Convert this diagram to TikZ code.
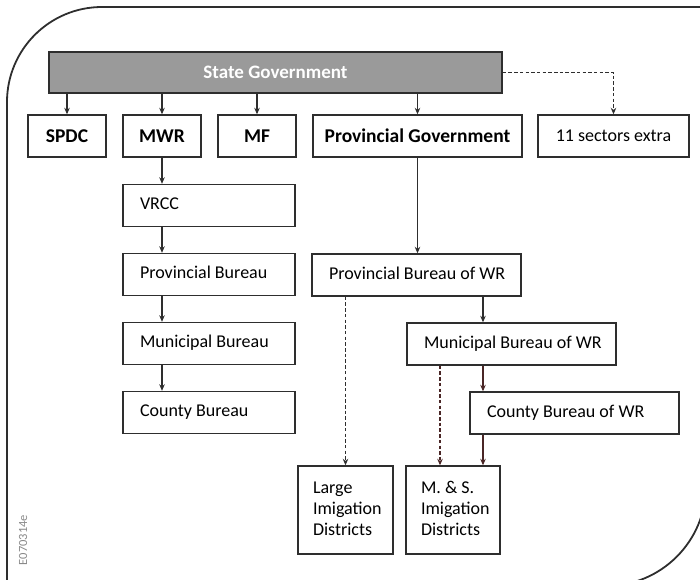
\documentclass[tikz,border=0pt]{standalone}
\usepackage{fontspec}
\setmainfont{Carlito}
\usetikzlibrary{arrows.meta}
\definecolor{linegray}{HTML}{2E2E2E}
\definecolor{bargray}{HTML}{9A9A9A}
\definecolor{arrowdark}{HTML}{4A2626}
\definecolor{labelgray}{HTML}{8A8A8A}
\newcommand\leftlines[2]{\raisebox{-1.5pt}{\makebox[#1][l]{\begin{tabular}{@{}l@{}}#2\end{tabular}}}}
\begin{document}
\begin{tikzpicture}[x=1pt,y=-1pt,
  box/.style={draw=linegray, line width=1.4pt, inner sep=0pt, minimum height=42pt,
    font=\fontsize{18}{21}\selectfont},
  topbox/.style={box, font=\fontsize{19.5}{21}\selectfont\bfseries},
  leftbox/.style={box, inner xsep=17pt},
  arr/.style={draw=linegray, line width=1.6pt, -{Stealth[length=6.5pt,width=5.5pt]}},
  darr/.style={arr, line width=1.8pt, dash pattern=on 3.5pt off 2.2pt},
  marr/.style={arr, draw=arrowdark},
  mdarr/.style={darr, draw=arrowdark}]
\useasboundingbox (0,0) rectangle (700,579);
\begin{scope}
  \clip (0,0) rectangle (700,579);
  \draw[line width=1.8pt, linegray, rounded corners=95pt] (7,640) -- (7,7) -- (760,7);
  \draw[line width=1.8pt, linegray, rounded corners=100pt] (706,380) -- (706,586) -- (480,586);
\end{scope}
\node[rotate=90, text=labelgray, font=\fontsize{12.5}{12.5}\selectfont] (code) at (23,540) {E070314e};

\node[box, fill=bargray, minimum width=453pt, minimum height=41pt, text=white,
  font=\fontsize{19}{21}\selectfont\bfseries] (bar) at (275.5,72.5) {State Government};

\node[topbox, minimum width=78pt] (spdc) at (67,136) {SPDC};
\node[topbox, minimum width=78pt] (mwr) at (162,136) {MWR};
\node[topbox, minimum width=78pt] (mf) at (257,136) {MF};
\node[topbox, minimum width=209pt] (provgov) at (417.5,136) {Provincial Government};
\node[box, minimum width=151pt] (sectors) at (613.5,136) {11 sectors extra};

\node[leftbox] (vrcc) at (209,205.5) {\leftlines{138pt}{VRCC}};
\node[leftbox] (pb) at (209,274.5) {\leftlines{138pt}{Provincial Bureau}};
\node[leftbox] (mb) at (209,343.5) {\leftlines{138pt}{Municipal Bureau}};
\node[leftbox] (cb) at (209,412.5) {\leftlines{138pt}{County Bureau}};

\node[leftbox] (pbwr) at (416.5,275) {\leftlines{175pt}{Provincial Bureau of WR}};
\node[leftbox] (mbwr) at (511.5,344) {\leftlines{175pt}{Municipal Bureau of WR}};
\node[leftbox] (cbwr) at (574.5,413) {\leftlines{175pt}{County Bureau of WR}};

\node[leftbox, inner xsep=15pt, minimum height=88pt] (large) at (345.5,510) {\leftlines{65pt}{Large\\Imigation\\Districts}};
\node[leftbox, inner xsep=15pt, minimum height=88pt] (ms) at (453,510) {\leftlines{64pt}{M. \& S.\\Imigation\\Districts}};

\coordinate (colx) at (483,0);
\coordinate (dashx) at (440,0);

\draw[arr] (bar.south -| spdc.north) -- (spdc.north);
\draw[arr] (bar.south -| mwr.north) -- (mwr.north);
\draw[arr] (bar.south -| mf.north) -- (mf.north);
\draw[arr] (bar.south -| provgov.north) -- (provgov.north);
\draw[darr] (bar.east) -| (sectors.north);

\draw[arr] (mwr.south) -- (mwr.south |- vrcc.north);
\draw[arr] (vrcc.south -| mwr.south) -- (pb.north -| mwr.south);
\draw[arr] (pb.south -| mwr.south) -- (mb.north -| mwr.south);
\draw[arr] (mb.south -| mwr.south) -- (cb.north -| mwr.south);

\draw[arr] (provgov.south) -- (provgov.south |- pbwr.north);
\draw[arr] (pbwr.south -| colx) -- (mbwr.north -| colx);
\draw[marr] (mbwr.south -| colx) -- (cbwr.north -| colx);
\draw[marr] (cbwr.south -| colx) -- (ms.north -| colx);
\draw[darr] (pbwr.south -| large.north) -- (large.north);
\draw[mdarr] (mbwr.south -| dashx) -- (ms.north -| dashx);
\end{tikzpicture}
\end{document}
